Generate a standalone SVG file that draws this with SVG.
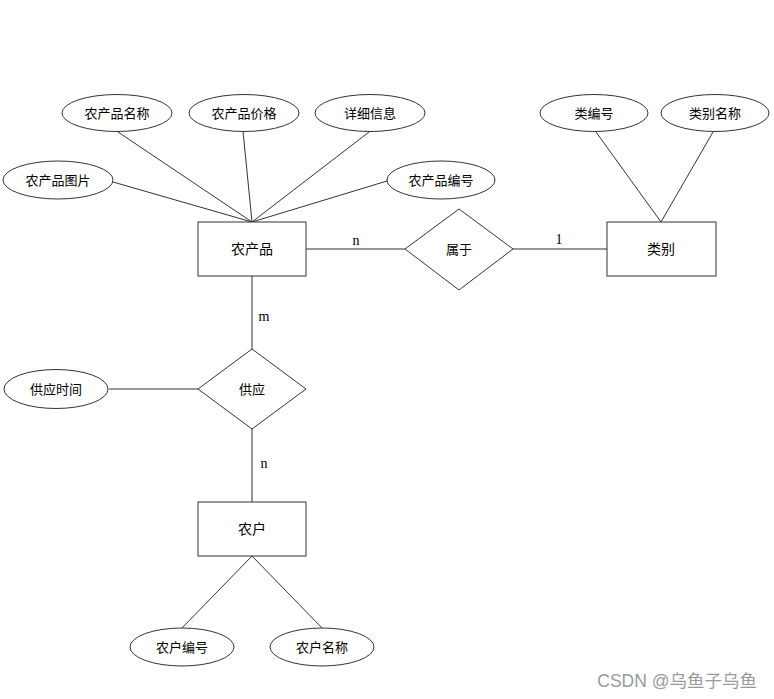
<svg xmlns="http://www.w3.org/2000/svg" width="774" height="699" viewBox="0 0 774 699">
<style>
.s{fill:#fff;stroke:#333;stroke-width:1}
.c line{stroke:#333;stroke-width:1}
.t{font-family:"Liberation Sans","Noto Sans CJK SC",sans-serif;font-size:13px;fill:#000;text-anchor:middle;dominant-baseline:central}
.e{font-size:14px}
.l{font-family:"Liberation Serif",serif;font-size:14px;fill:#000;text-anchor:middle}
</style>
<rect width="774" height="699" fill="#fff"/>
<g id="connectors" class="c">
<line x1="252" y1="222" x2="118" y2="132"/>
<line x1="252" y1="222" x2="243" y2="131"/>
<line x1="252" y1="222" x2="369" y2="132"/>
<line x1="252" y1="222" x2="113" y2="182"/>
<line x1="252" y1="222" x2="387" y2="181"/>
<line x1="661" y1="222" x2="596" y2="132"/>
<line x1="661" y1="222" x2="713" y2="132"/>
<line x1="252" y1="556" x2="182" y2="628"/>
<line x1="252" y1="556" x2="322" y2="628"/>
<line x1="306" y1="249" x2="405" y2="249"/>
<line x1="513" y1="249" x2="607" y2="249"/>
<line x1="252" y1="276" x2="252" y2="349"/>
<line x1="252" y1="429" x2="252" y2="502"/>
<line x1="109" y1="389" x2="198" y2="389"/>
<text class="l" x="356" y="245">n</text>
<text class="l" x="559" y="244">1</text>
<text class="l" x="264" y="321">m</text>
<text class="l" x="264" y="468">n</text>
</g>
<g id="nongchanpin"><rect class="s" x="198" y="222" width="108" height="54"/><text class="t e" x="252" y="249">农产品</text></g>
<g id="leibie"><rect class="s" x="607" y="222" width="109" height="54"/><text class="t e" x="661" y="249">类别</text></g>
<g id="nonghu"><rect class="s" x="198" y="502" width="108" height="54"/><text class="t e" x="252" y="529">农户</text></g>
<g id="shuyu"><polygon class="s" points="405,249 459,209 513,249 459,290"/><text class="t" x="459" y="249">属于</text></g>
<g id="gongying"><polygon class="s" points="198,389 252,349 306,389 252,429"/><text class="t" x="252" y="389">供应</text></g>
<g id="a-mingcheng"><ellipse class="s" cx="117" cy="113" rx="55" ry="18.5"/><text class="t" x="117" y="113">农产品名称</text></g>
<g id="a-jiage"><ellipse class="s" cx="244" cy="113" rx="55" ry="18.5"/><text class="t" x="244" y="113">农产品价格</text></g>
<g id="a-xiangxi"><ellipse class="s" cx="370" cy="113" rx="55" ry="18.5"/><text class="t" x="370" y="113">详细信息</text></g>
<g id="a-tupian"><ellipse class="s" cx="58" cy="180" rx="55" ry="19"/><text class="t" x="58" y="180">农产品图片</text></g>
<g id="a-bianhao"><ellipse class="s" cx="441" cy="180" rx="54" ry="19"/><text class="t" x="441" y="180">农产品编号</text></g>
<g id="a-leibianhao"><ellipse class="s" cx="594" cy="113" rx="54" ry="18.5"/><text class="t" x="594" y="113">类编号</text></g>
<g id="a-leibiemingcheng"><ellipse class="s" cx="715" cy="113" rx="54" ry="18.5"/><text class="t" x="715" y="113">类别名称</text></g>
<g id="a-gongyingshijian"><ellipse class="s" cx="56" cy="389" rx="52" ry="19.5"/><text class="t" x="56" y="389">供应时间</text></g>
<g id="a-nonghubianhao"><ellipse class="s" cx="182" cy="647" rx="52" ry="19"/><text class="t" x="182" y="647">农户编号</text></g>
<g id="a-nonghumingcheng"><ellipse class="s" cx="322" cy="647" rx="52" ry="19"/><text class="t" x="322" y="647">农户名称</text></g>
<text x="757" y="687" font-family="Liberation Sans,'Noto Sans CJK SC',sans-serif" font-size="17.5" fill="#999" text-anchor="end">CSDN @乌鱼子乌鱼</text>
</svg>
